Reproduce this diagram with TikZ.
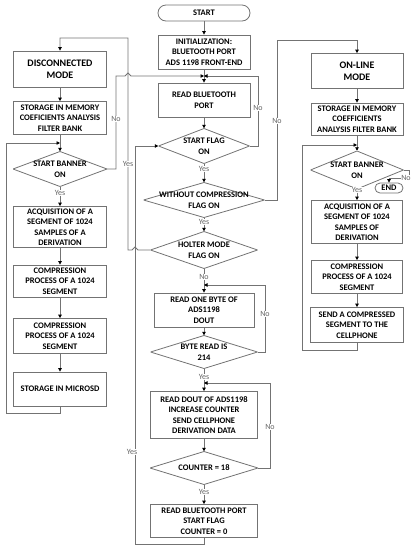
\documentclass[tikz,border=0pt]{standalone}
\usepackage{fontspec}
\setmainfont{Carlito}
\usepackage{tikz}
\usetikzlibrary{arrows.meta}
\tikzset{
  line/.style={draw=black!55, line width=0.8pt},
  flow/.style={line, -{Triangle[length=3.5pt, width=3.5pt, color=black]}},
  stepbox/.style={rectangle, line, fill=white, inner sep=1pt,
                  align=center, font=\bfseries\fontsize{8.5}{10.5}\selectfont},
  modebox/.style={stepbox, font=\bfseries\fontsize{10}{12.5}\selectfont},
  termbox/.style={stepbox, rounded corners=8pt},
  decision/.style={rectangle, inner sep=0pt, align=center,
                   font=\bfseries\fontsize{8.5}{10.5}\selectfont,
                   path picture={\draw[line]
                     (path picture bounding box.west) -- (path picture bounding box.north)
                     -- (path picture bounding box.east) -- (path picture bounding box.south)
                     -- cycle;}},
  lbl/.style={font=\fontsize{8}{9}\selectfont, text=black!60, fill=white, inner sep=0.6pt},
}
\begin{document}
\begin{tikzpicture}[x=1pt, y=-1pt]
    \useasboundingbox (0,0) rectangle (413,550);
    %% middle column
    \node[termbox, minimum width=92pt, minimum height=16pt] (start) at (204,13) {START};
    \node[stepbox, minimum width=92pt, minimum height=34pt] (init) at (204,52)
      {INITIALIZATION:\\BLUETOOTH PORT\\ADS 1198 FRONT-END};
    \node[stepbox, minimum width=92pt, minimum height=34pt] (readBT) at (204,100)
      {READ BLUETOOTH\\PORT};
    \node[decision, minimum width=91pt, minimum height=35pt] (startFlag) at (204,146)
      {START FLAG\\ON};
    \node[decision, minimum width=121pt, minimum height=35pt] (noComp) at (204,200)
      {WITHOUT COMPRESSION\\FLAG ON};
    \node[decision, minimum width=107pt, minimum height=37pt] (holter) at (204,250)
      {HOLTER MODE\\FLAG ON};
    \node[stepbox, minimum width=100pt, minimum height=34pt] (readByte) at (204,310)
      {READ ONE BYTE OF\\ADS1198\\DOUT};
    \node[decision, minimum width=107pt, minimum height=33pt] (byteRead) at (204,352)
      {BYTE READ IS\\214};
    \node[stepbox, minimum width=107pt, minimum height=47pt] (readDout) at (204,415)
      {READ DOUT OF ADS1198\\INCREASE COUNTER\\SEND CELLPHONE\\DERIVATION DATA};
    \node[decision, minimum width=108pt, minimum height=33pt] (counter) at (204,468)
      {COUNTER = 18};
    \node[stepbox, minimum width=107pt, minimum height=33pt] (readFlag) at (204,521)
      {READ BLUETOOTH PORT\\START FLAG\\COUNTER = 0};
    %% disconnected mode
    \node[modebox, minimum width=93pt, minimum height=36pt] (disc) at (60,69)
      {DISCONNECTED\\MODE};
    \node[stepbox, minimum width=93pt, minimum height=33pt] (storeL) at (60,118)
      {STORAGE IN MEMORY\\COEFICIENTS ANALYSIS\\FILTER BANK};
    \node[decision, minimum width=94pt, minimum height=35pt] (bannerL) at (60,169)
      {START BANNER\\ON};
    \node[stepbox, minimum width=93pt, minimum height=41pt] (acqL) at (60,227)
      {ACQUISITION OF A\\SEGMENT OF 1024\\SAMPLES OF A\\DERIVATION};
    \node[stepbox, minimum width=93pt, minimum height=32pt] (compL1) at (60,281)
      {COMPRESSION\\PROCESS OF A 1024\\SEGMENT};
    \node[stepbox, minimum width=93pt, minimum height=35pt] (compL2) at (60,336)
      {COMPRESSION\\PROCESS OF A 1024\\SEGMENT};
    \node[stepbox, minimum width=93pt, minimum height=34pt] (microSD) at (60,389)
      {STORAGE IN MICROSD};
    %% on-line mode
    \node[modebox, minimum width=92pt, minimum height=35pt] (online) at (357,71)
      {ON-LINE\\MODE};
    \node[stepbox, minimum width=92pt, minimum height=32pt] (storeR) at (357,119)
      {STORAGE IN MEMORY\\COEFFICIENTS\\ANALYSIS FILTER BANK};
    \node[decision, minimum width=93pt, minimum height=38pt] (bannerR) at (357,170)
      {START BANNER\\ON};
    \node[termbox, rounded corners=5pt, minimum width=28pt, minimum height=10pt,
          inner sep=0pt] (endN) at (389,188) {END};
    \node[stepbox, minimum width=91pt, minimum height=43pt] (acqR) at (357,222)
      {ACQUISITION OF A\\SEGMENT OF 1024\\SAMPLES OF\\DERIVATION};
    \node[stepbox, minimum width=91pt, minimum height=33pt] (compR) at (357,277)
      {COMPRESSION\\PROCESS OF A 1024\\SEGMENT};
    \node[stepbox, minimum width=93pt, minimum height=35pt] (sendR) at (357,325)
      {SEND A COMPRESSED\\SEGMENT TO THE\\CELLPHONE};
    %% junctions
    \coordinate (jTop) at (204,76);
    \coordinate (jL) at (60,143);
    \coordinate (jR) at (357,145);
    \coordinate (jByte) at (204,285);
    \coordinate (jDout) at (204,383);
    %% main flow
    \draw[flow] (start) -- (init);
    \draw[flow] (init) -- (readBT);
    \draw[flow] (readBT) -- (startFlag);
    \draw[flow] (startFlag) -- (noComp);
    \draw[flow] (noComp) -- (holter);
    \draw[flow] (holter) -- (readByte);
    \draw[flow] (readByte) -- (byteRead);
    \draw[flow] (byteRead) -- (readDout);
    \draw[flow] (readDout) -- (counter);
    \draw[flow] (counter) -- (readFlag);
    \draw[flow] (disc) -- (storeL);
    \draw[flow] (storeL) -- (bannerL);
    \draw[flow] (bannerL) -- (acqL);
    \draw[flow] (acqL) -- (compL1);
    \draw[flow] (compL1) -- (compL2);
    \draw[flow] (compL2) -- (microSD);
    \draw[flow] (online) -- (storeR);
    \draw[flow] (storeR) -- (bannerR);
    \draw[flow] (bannerR) -- (acqR);
    \draw[flow] (acqR) -- (compR);
    \draw[flow] (compR) -- (sendR);
    %% loops back
    \draw[flow] (startFlag.east) -| (258,76) -- (jTop);
    \draw[flow] (noComp.east) -| (277,40) -| (online.north);
    \draw[flow] (holter.west) -- (138,250) -- (135,247) -- (132,250) -| (128,38) -| (disc.north);
    \draw[flow] (bannerL.east) -| (116,76) -- (125,76) -- (128,73) -- (131,76) -- (jTop);
    \draw[flow] (byteRead.east) -| (265,285) -- (jByte);
    \draw[flow] (counter.east) -| (270,383) -- (jDout);
    \draw[flow] (readFlag.south) -- ++(0,6) -| (135,146) -- (startFlag.west);
    \draw[flow] (microSD.south) -- ++(0,7) -| (6,143) -- (jL);
    \draw[flow] (sendR.south) -- ++(0,7) -| (302,145) -- (jR);
    \draw[flow] (bannerR.east) -| (409,178) -| (endN.north);
    %% yes / no
    \node[lbl] (y1) at (204,169) {Yes};
    \node[lbl] (y2) at (204,222) {Yes};
    \node[lbl] (n3) at (204,277) {No};
    \node[lbl] (y4) at (204,377) {Yes};
    \node[lbl] (y5) at (204,492) {Yes};
    \node[lbl] (n1) at (258,108) {No};
    \node[lbl] (n2) at (277,121) {No};
    \node[lbl] (y3) at (128,164) {Yes};
    \node[lbl] (n4) at (116,119) {No};
    \node[lbl] (n5) at (265,314) {No};
    \node[lbl] (n6) at (270,427) {No};
    \node[lbl] (y6) at (132,452) {Yes};
    \node[lbl] (y7) at (60,193) {Yes};
    \node[lbl] (y8) at (357,190) {Yes};
    \node[lbl] (n7) at (406,178) {No};
\end{tikzpicture}
\end{document}
